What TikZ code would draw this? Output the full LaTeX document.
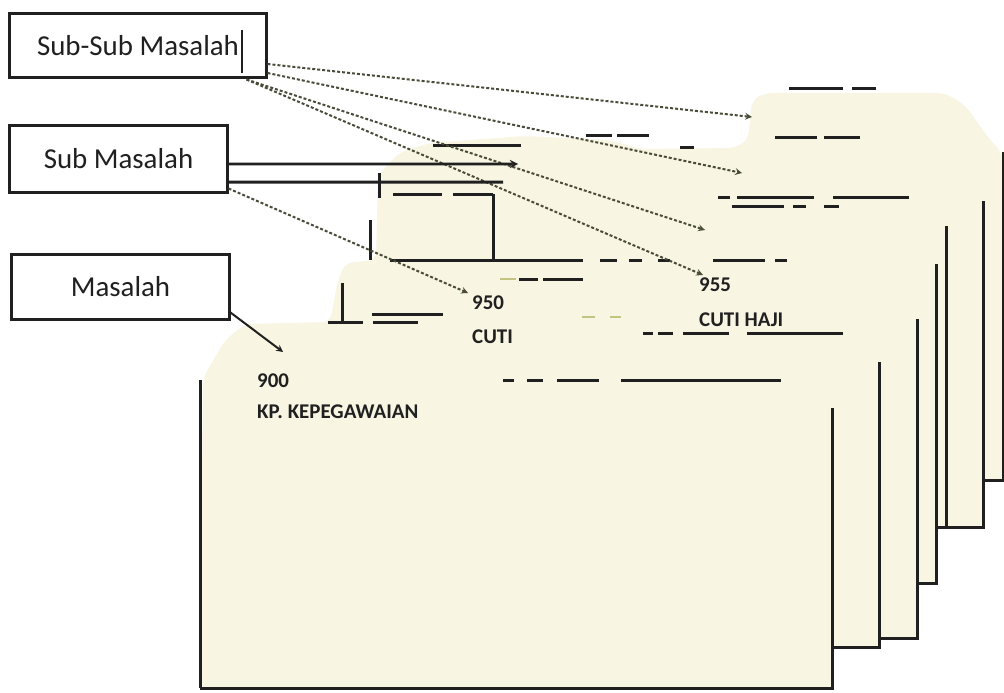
\documentclass[tikz,border=0pt]{standalone}
\usepackage{fontspec}
\setmainfont{Carlito}
\usepackage{tikz}
\usetikzlibrary{arrows,shapes,positioning}
\usepackage{xcolor}
\definecolor{cardcream}{RGB}{248,245,226}
\definecolor{inkgray}{RGB}{32,32,32}
\definecolor{dotgray}{RGB}{72,76,56}
\definecolor{faintolive}{RGB}{196,196,130}
\tikzstyle{box} = [draw=inkgray, line width=3bp, fill=white, inner sep=0pt, text=inkgray, font=\fontsize{29}{32}\selectfont]
\tikzstyle{cardtext} = [anchor=west, inner sep=0pt, text=inkgray, font=\bfseries\fontsize{21}{22}\selectfont]
\tikzstyle{rim} = [line width=3bp, color=inkgray]
\tikzstyle{dotarrow} = [dash pattern=on 3bp off 2bp, line width=2bp, color=dotgray, ->, >=stealth]
\tikzstyle{solidarrow} = [line width=2.6bp, color=inkgray, ->, >=stealth]

\begin{document}
\begin{tikzpicture}[x=1bp, y=-1bp]
    \useasboundingbox (0,0) rectangle (1004,693);

    % Cream card stack
    \fill[cardcream] (200,688) -- (832,688) -- (832,647) -- (879,647) -- (879,638) -- (917,638)
        -- (917,583) -- (936,583) -- (936,527) -- (983,527) -- (983,480) -- (1003,480)
        [rounded corners=8bp] -- (1003,153) -- (990,140) -- (965,105) -- (945,93) -- (765,93)
        -- (752,100) -- (748,140) -- (735,148) -- (640,149) -- (610,140) -- (525,136)
        -- (430,143) -- (400,152) -- (378,175) -- (376,260) -- (345,263) -- (338,280)
        -- (330,322) -- (245,324) -- (225,340) -- (203,378) -- (200,688) -- cycle;

    % Card edges
    \draw[rim] (200,380) -- (200,688);
    \foreach \x/\top/\bot/\a in {832/408/688/200, 879/362/647/832, 917/319/638/879, 936/264/583/917, 983/201/527/936, 1003/152/480/983} {
        \draw[rim] (\x,\top) -- (\x,\bot) -- (\a,\bot);
    }
    \draw[rim] (946,226) -- (946,527);

    % Tab fragments
    \foreach \y/\a/\b in {89/789/843, 89/852/876, 136/586/612, 136/617/649, 138/775/817, 138/824/860,
        146/433/521, 148/680/694, 194/393/442, 194/453/493, 197/718/730, 197/737/814, 197/833/909,
        206/732/784, 206/793/806, 206/824/839, 260/390/583, 260/600/617, 260/629/642, 260/658/670,
        260/713/765, 260/775/787, 279/519/538, 279/543/583, 314/372/443, 322/328/363, 322/373/418,
        333/643/653, 333/658/673, 333/683/729, 333/747/843, 380/503/514, 380/527/543, 380/557/599,
        380/621/781} {
        \draw[rim] (\a,\y) -- (\b,\y);
    }
    \foreach \x/\a/\b in {379/173/198, 493/194/260, 370/220/260, 342/283/322} {
        \draw[rim] (\x,\a) -- (\x,\b);
    }
    \foreach \y/\a/\b in {279/500/516, 317/582/595, 317/610/621} {
        \draw[line width=2.4bp, faintolive] (\a,\y) -- (\b,\y);
    }

    % Card labels
    \node[cardtext] (n900) at (257,381) {900};
    \node[cardtext] (kp) at (257,412) {KP. KEPEGAWAIAN};
    \node[cardtext] (n950) at (472,303) {950};
    \node[cardtext] (cuti) at (472,337) {CUTI};
    \node[cardtext] (n955) at (699,285) {955};
    \node[cardtext] (haji) at (699,320) {CUTI HAJI};

    % Level boxes
    \node[box, minimum width=256bp, minimum height=64bp] (ssm) at (138,46) {Sub-Sub Masalah};
    \node[box, minimum width=217bp, minimum height=66bp] (sm) at (118.5,159) {Sub Masalah};
    \node[box, minimum width=217bp, minimum height=65bp] (mas) at (120.5,286.5) {Masalah};
    \draw[line width=1.8bp, inkgray] (242,30) -- (242,73);

    % Arrow ends
    \coordinate (ss1) at (752,117);
    \coordinate (ss2) at (742,173);
    \coordinate (ss3) at (705,230);
    \coordinate (ss4) at (703,275);
    \coordinate (smtip) at (518,164);
    \coordinate (smend) at (503,182);
    \coordinate (to950) at (468,293);
    \coordinate (to900) at (283,352);

    % Connectors
    \draw[dotarrow] ([yshift=-18bp]ssm.east) -- (ss1);
    \draw[dotarrow] ([yshift=-27bp]ssm.east) -- (ss2);
    \draw[dotarrow] ([xshift=-21bp]ssm.south east) -- (ss3);
    \draw[dotarrow] ([xshift=-21bp]ssm.south east) -- (ss4);
    \draw[solidarrow] ([yshift=-5bp]sm.east) -- (smtip);
    \draw[rim] ([yshift=-23bp]sm.east) -- (smend);
    \draw[dotarrow] ([yshift=5bp]sm.south east) -- (to950);
    \draw[solidarrow, line width=2bp] ([yshift=8bp]mas.south east) -- (to900);
\end{tikzpicture}
\end{document}
